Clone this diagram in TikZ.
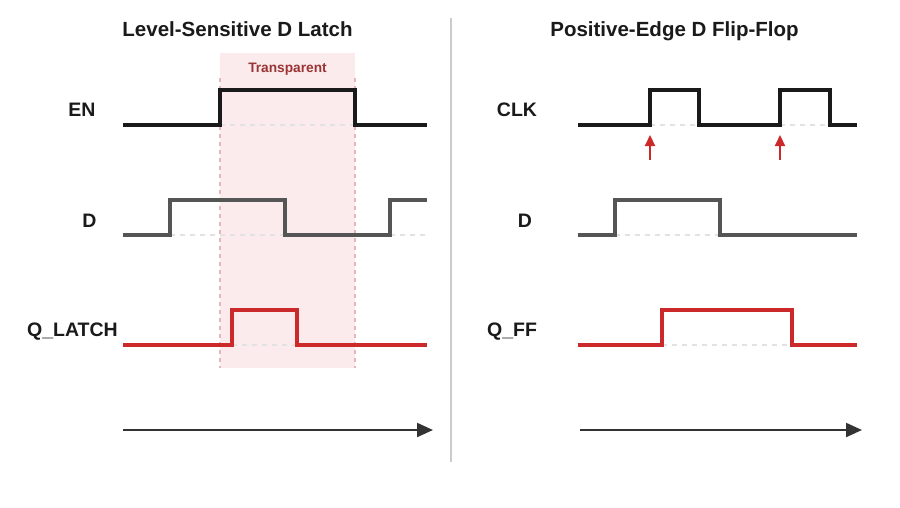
\documentclass[tikz,border=0pt]{standalone}
\usepackage{fontspec}
\setmainfont{Liberation Sans}
\usetikzlibrary{arrows.meta}
\definecolor{enc}{HTML}{1A1A1A}
\definecolor{dc}{HTML}{555555}
\definecolor{qc}{HTML}{CC2A2A}
\definecolor{basec}{HTML}{E2E2E2}
\definecolor{pinkfill}{HTML}{FCEBEC}
\definecolor{pinkedge}{HTML}{E3B7BB}
\definecolor{transc}{HTML}{9B3434}
\definecolor{axisc}{HTML}{333333}
\definecolor{divc}{HTML}{CCCCCC}
\begin{document}
\begin{tikzpicture}[x=1pt,y=-1pt,
  wave/.style={line width=3.4pt,line join=miter,line cap=butt},
  baseline dash/.style={draw=basec,line width=1.5pt,dash pattern=on 5pt off 5pt},
  sigtitle/.style={font=\fontsize{20.5}{24}\selectfont\bfseries,text=enc,anchor=base,inner sep=0pt},
  siglabel/.style={font=\fontsize{19.5}{23}\selectfont\bfseries,text=enc,anchor=base,inner sep=0pt},
  timeaxis/.style={draw=axisc,line width=2.2pt,-{Triangle[length=16pt,width=14pt]}},
  edgearrow/.style={draw=qc,line width=2.2pt,-{Triangle[length=11pt,width=10pt]}}]
\useasboundingbox (0,0) rectangle (900,507);
\fill[white] (0,0) rectangle (900,507);

% divider
\draw[divc,line width=2pt] (451,18) -- (451,462);

% titles
\node[sigtitle] (t1) at (237.5,36) {Level-Sensitive D Latch};
\node[sigtitle] (t2) at (674.5,36) {Positive-Edge D Flip-Flop};

% transparent window
\fill[pinkfill] (220,53) rectangle (355,368);
\draw[pinkedge,line width=1.5pt,dash pattern=on 4pt off 4pt] (220,78) -- (220,368);
\draw[pinkedge,line width=1.5pt,dash pattern=on 4pt off 4pt] (355,78) -- (355,368);
\node[font=\fontsize{13.7}{16}\selectfont\bfseries,text=transc,anchor=base,inner sep=0pt] (tr) at (287.5,72) {Transparent};

% labels left
\node[siglabel] (en) at (82,116) {EN};
\node[siglabel] (d1) at (89.5,227) {D};
\node[siglabel] (q1) at (72.5,336) {Q\_LATCH};
% labels right
\node[siglabel] (clk) at (517,116) {CLK};
\node[siglabel] (d2) at (525,227) {D};
\node[siglabel] (q2) at (512,336) {Q\_FF};

% baselines (dashed)
\draw[baseline dash] (220,125) -- (355,125);
\draw[baseline dash] (170,235) -- (285,235);
\draw[baseline dash] (390,235) -- (427,235);
\draw[baseline dash] (232,345) -- (297,345);
\draw[baseline dash] (650,125) -- (699,125);
\draw[baseline dash] (780,125) -- (830,125);
\draw[baseline dash] (615,235) -- (720,235);
\draw[baseline dash] (662,345) -- (792,345);

% left waveforms
\draw[wave,enc] (123,125) -- (220,125) -- (220,90) -- (355,90) -- (355,125) -- (427,125);
\draw[wave,dc] (123,235) -- (170,235) -- (170,200) -- (285,200) -- (285,235) -- (390,235) -- (390,200) -- (427,200);
\draw[wave,qc] (123,345) -- (232,345) -- (232,310) -- (297,310) -- (297,345) -- (427,345);

% right waveforms
\draw[wave,enc] (578,125) -- (650,125) -- (650,90) -- (699,90) -- (699,125) -- (780,125) -- (780,90) -- (830,90) -- (830,125) -- (857,125);
\draw[wave,dc] (578,235) -- (615,235) -- (615,200) -- (720,200) -- (720,235) -- (857,235);
\draw[wave,qc] (578,345) -- (662,345) -- (662,310) -- (792,310) -- (792,345) -- (857,345);

% edge arrows
\coordinate (e1s) at (650,160); \coordinate (e1t) at (650,135);
\coordinate (e2s) at (780,160); \coordinate (e2t) at (780,135);
\draw[edgearrow] (e1s) -- (e1t);
\draw[edgearrow] (e2s) -- (e2t);

% time axes
\coordinate (a1s) at (123,430); \coordinate (a1e) at (433,430);
\coordinate (a2s) at (580,430); \coordinate (a2e) at (862,430);
\draw[timeaxis] (a1s) -- (a1e);
\draw[timeaxis] (a2s) -- (a2e);
\end{tikzpicture}
\end{document}
